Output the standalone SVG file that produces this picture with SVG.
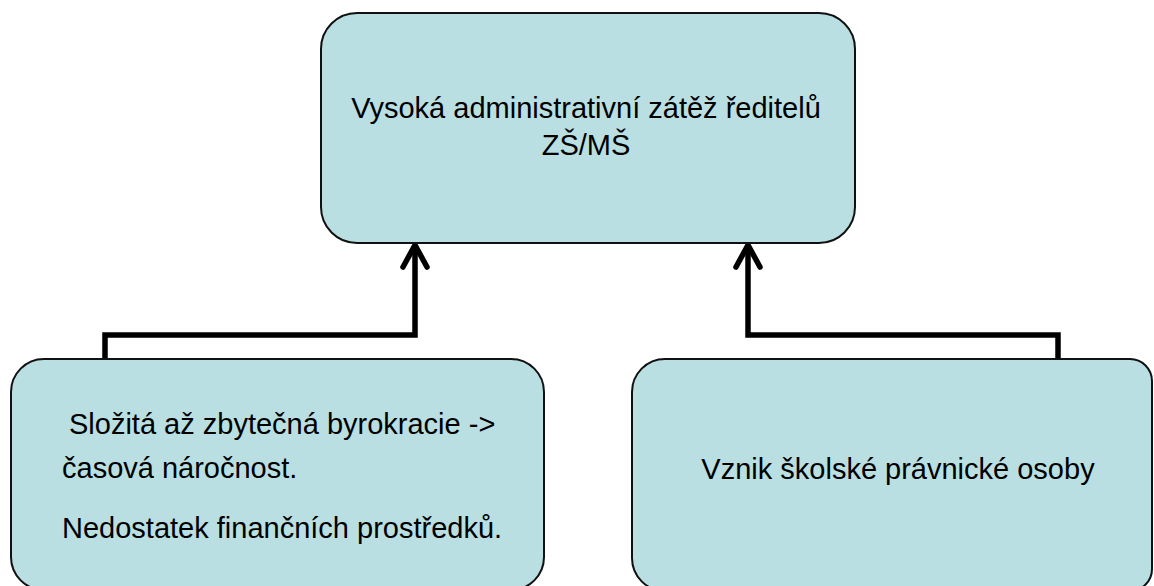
<svg xmlns="http://www.w3.org/2000/svg" width="1154" height="586" viewBox="0 0 1154 586">
  <style>
    .box { fill: #BADFE2; stroke: #111; stroke-width: 2; }
    .lbl { font-family: "Liberation Sans", Arial, sans-serif; font-size: 29px; fill: #000; }
    .conn { fill: none; stroke: #000; stroke-width: 5.5; stroke-linejoin: miter; marker-end: url(#arr); }
  </style>
  <defs>
    <marker id="arr" markerUnits="userSpaceOnUse" markerWidth="40" markerHeight="40" viewBox="-30 -20 40 40" refX="0" refY="0" orient="auto" overflow="visible">
      <path d="M -20 -12 L 2 0 L -20 12" fill="none" stroke="#000" stroke-width="5.5" stroke-linecap="round" stroke-linejoin="round"/>
    </marker>
  </defs>
  <rect width="1154" height="586" fill="#fff"/>
  <g id="connectors">
    <polyline class="conn" points="105,359 105,335 415,335 415,247"/>
    <polyline class="conn" points="1058,359 1058,335 748,335 748,247"/>
  </g>
  <g id="node-top">
    <rect class="box" x="321" y="13" width="534" height="230" rx="36" ry="36"/>
    <text class="lbl" x="586" y="118" text-anchor="middle">Vysoká administrativní zátěž ředitelů</text>
    <text class="lbl" x="586" y="155" text-anchor="middle">ZŠ/MŠ</text>
  </g>
  <g id="node-left">
    <rect class="box" x="11" y="359" width="533" height="231" rx="33" ry="33"/>
    <text class="lbl" x="69" y="434">Složitá až zbytečná byrokracie -&gt;</text>
    <text class="lbl" x="62" y="478">časová náročnost.</text>
    <text class="lbl" x="62" y="538">Nedostatek finančních prostředků.</text>
  </g>
  <g id="node-right">
    <path class="box" d="M 665 359 H 1130 A 22 22 0 0 1 1152 381 V 569 A 22 22 0 0 1 1130 591 H 665 A 33 33 0 0 1 632 558 V 392 A 33 33 0 0 1 665 359 Z"/>
    <text class="lbl" x="898" y="479" text-anchor="middle">Vznik školské právnické osoby</text>
  </g>
</svg>
